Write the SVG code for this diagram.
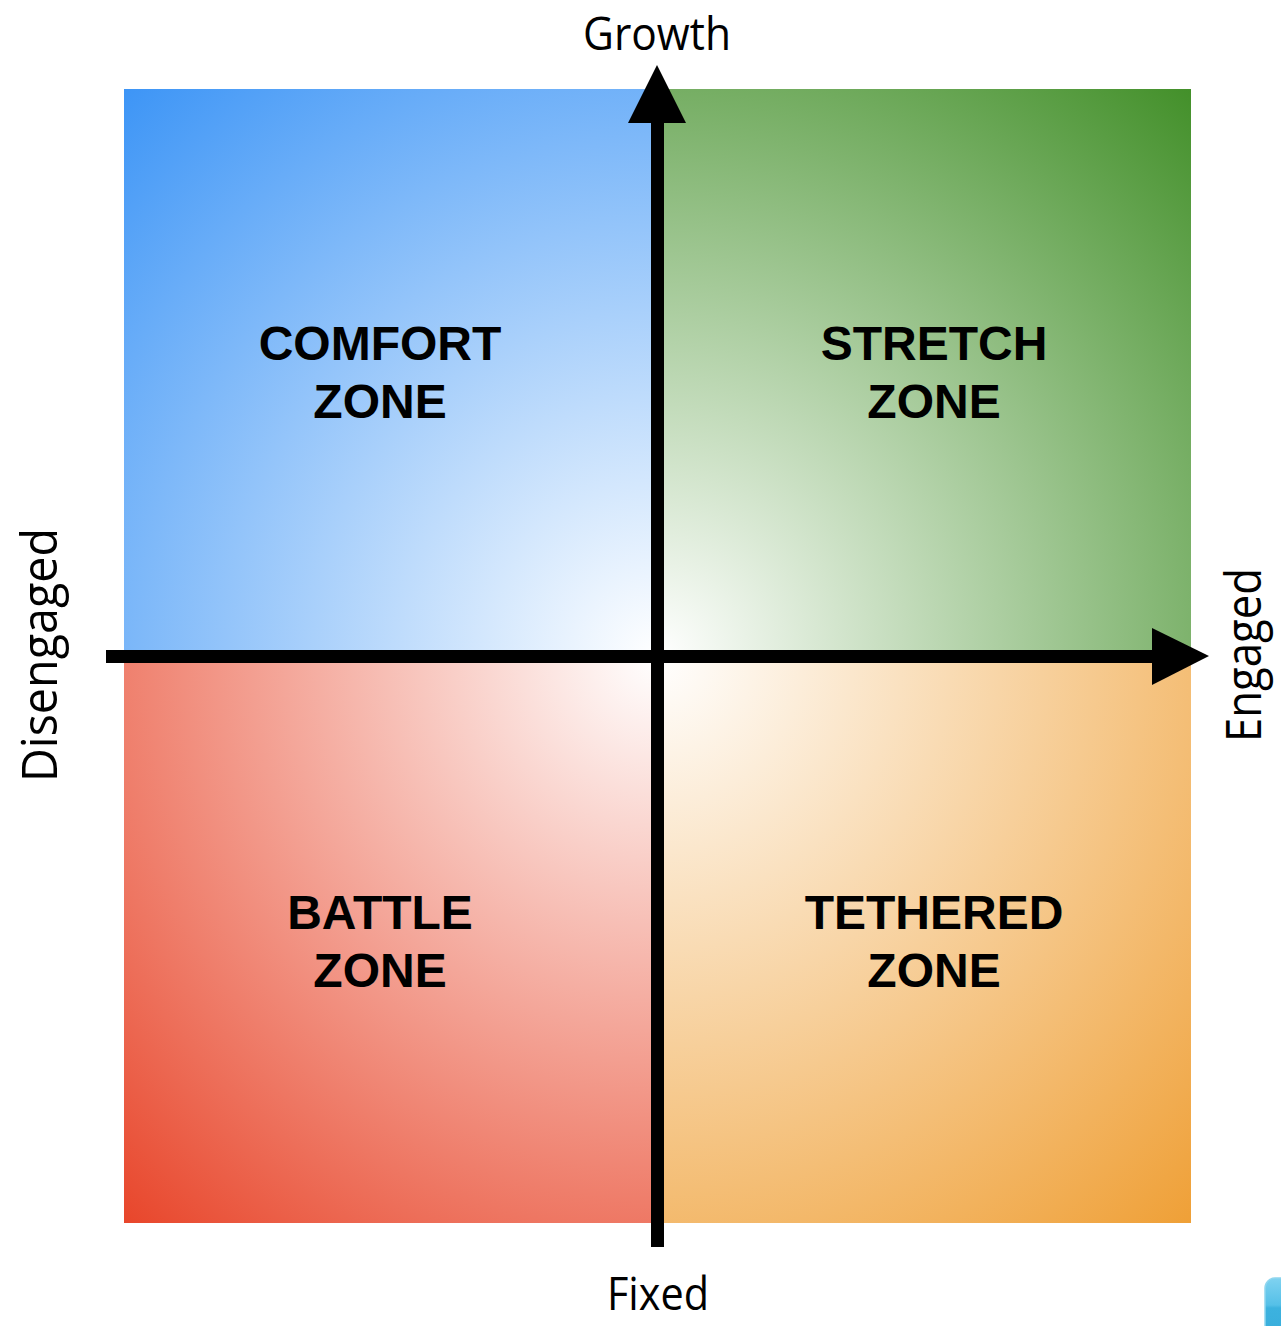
<svg xmlns="http://www.w3.org/2000/svg" width="1281" height="1326" viewBox="0 0 1281 1326">
  <style>
    .zone { font-family: "Liberation Sans", Arial, sans-serif; font-weight: bold; font-size: 48px; fill: #000; text-anchor: middle; }
    .axis-label { font-family: "Open Sans", "Noto Sans", sans-serif; font-size: 46px; fill: #000; text-anchor: middle; }
    .side { font-size: 50px; }
    .axis { fill: #000; }
  </style>
  <defs>
    <!-- each quadrant fades from white at the origin to its colour at the outer corner -->
    <radialGradient id="gBlue" gradientUnits="userSpaceOnUse" cx="657" cy="656" r="778">
      <stop offset="0" stop-color="#ffffff"/>
      <stop offset="1" stop-color="#3d95f6"/>
    </radialGradient>
    <radialGradient id="gGreen" gradientUnits="userSpaceOnUse" cx="657" cy="656" r="778">
      <stop offset="0" stop-color="#ffffff"/>
      <stop offset="1" stop-color="#43902a"/>
    </radialGradient>
    <radialGradient id="gRed" gradientUnits="userSpaceOnUse" cx="657" cy="656" r="778">
      <stop offset="0" stop-color="#ffffff"/>
      <stop offset="1" stop-color="#e8462b"/>
    </radialGradient>
    <radialGradient id="gOrange" gradientUnits="userSpaceOnUse" cx="657" cy="656" r="778">
      <stop offset="0" stop-color="#ffffff"/>
      <stop offset="1" stop-color="#efa037"/>
    </radialGradient>
    <linearGradient id="gButton" x1="0" y1="0" x2="0" y2="1">
      <stop offset="0" stop-color="#7fd2f0"/>
      <stop offset="0.45" stop-color="#55c0e8"/>
      <stop offset="0.5" stop-color="#3cb2df"/>
      <stop offset="1" stop-color="#38addb"/>
    </linearGradient>
  </defs>

  <rect width="1281" height="1326" fill="#ffffff"/>

  <g id="comfort-zone">
    <rect x="124" y="89" width="533" height="567" fill="url(#gBlue)"/>
    <text class="zone" x="380" y="360">COMFORT</text>
    <text class="zone" x="380" y="418">ZONE</text>
  </g>

  <g id="stretch-zone">
    <rect x="657" y="89" width="534" height="567" fill="url(#gGreen)"/>
    <text class="zone" x="934" y="360">STRETCH</text>
    <text class="zone" x="934" y="418">ZONE</text>
  </g>

  <g id="battle-zone">
    <rect x="124" y="656" width="533" height="567" fill="url(#gRed)"/>
    <text class="zone" x="380" y="929">BATTLE</text>
    <text class="zone" x="380" y="987">ZONE</text>
  </g>

  <g id="tethered-zone">
    <rect x="657" y="656" width="534" height="567" fill="url(#gOrange)"/>
    <text class="zone" x="934" y="929">TETHERED</text>
    <text class="zone" x="934" y="987">ZONE</text>
  </g>

  <g id="axes">
    <!-- vertical axis: Fixed to Growth -->
    <rect class="axis" x="651" y="118" width="13" height="1129"/>
    <polygon class="axis" points="657,65 686,123 628,123"/>
    <!-- horizontal axis: Disengaged to Engaged -->
    <rect class="axis" x="106" y="650" width="1050" height="13"/>
    <polygon class="axis" points="1209,656 1152,628 1152,685"/>
  </g>

  <g id="axis-labels">
    <text class="axis-label" x="657" y="50" textLength="148" lengthAdjust="spacingAndGlyphs">Growth</text>
    <text class="axis-label" x="658" y="1310" textLength="102" lengthAdjust="spacingAndGlyphs">Fixed</text>
    <text class="axis-label side" transform="translate(57,655) rotate(-90)" x="0" y="0" textLength="254" lengthAdjust="spacingAndGlyphs">Disengaged</text>
    <text class="axis-label side" transform="translate(1261,655) rotate(-90)" x="0" y="0" textLength="174" lengthAdjust="spacingAndGlyphs">Engaged</text>
  </g>

  <!-- partly visible button in the corner -->
  <g id="corner-button">
    <rect x="1265" y="1278" width="40" height="60" rx="10" fill="url(#gButton)" stroke="#8fd6ef" stroke-width="1.5"/>
  </g>
</svg>
